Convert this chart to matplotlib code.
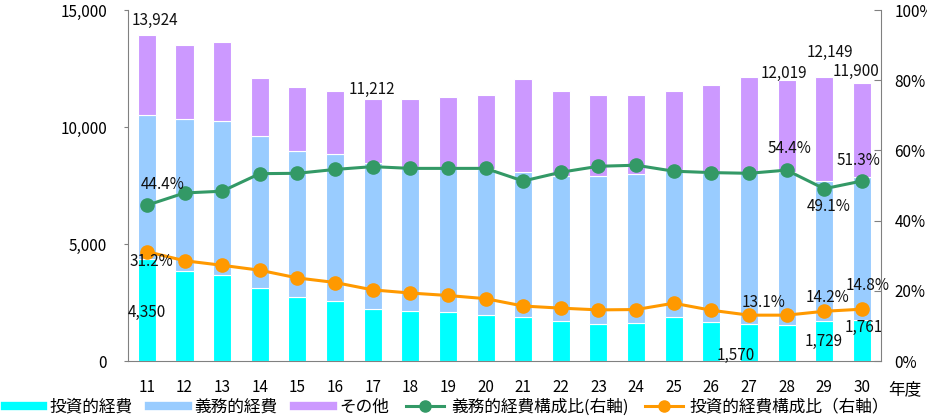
import matplotlib
matplotlib.use("Agg")
import matplotlib.pyplot as plt
from matplotlib.lines import Line2D
from matplotlib.ticker import FuncFormatter
import numpy as np

plt.rcParams['font.family'] = ['Noto Sans CJK JP', 'DejaVu Sans']

# data (億円 / %)
years = ["11", "12", "13", "14", "15", "16", "17", "18", "19", "20",
         "21", "22", "23", "24", "25", "26", "27", "28", "29", "30"]
investment = [4350, 3859, 3675, 3134, 2721, 2551, 2236, 2150, 2094, 1980,
              1895, 1695, 1595, 1638, 1895, 1681, 1570, 1553, 1729, 1761]
mandatory = [6182, 6468, 6591, 6470, 6270, 6318, 6234, 6157, 6212, 6245,
             6188, 6226, 6313, 6359, 6261, 6339, 6505, 6538, 5965, 6105]
other = [3392, 3177, 3352, 2490, 2706, 2682, 2742, 2888, 2989, 3130,
         3955, 3630, 3447, 3358, 3395, 3762, 4062, 3928, 4455, 4034]
mandatory_ratio = [44.4, 47.9, 48.4, 53.4, 53.5, 54.6, 55.4, 54.9, 54.9, 54.9,
                   51.3, 53.8, 55.5, 55.8, 54.1, 53.7, 53.5, 54.4, 49.1, 51.3]
investment_ratio = [31.2, 28.6, 27.3, 25.9, 23.7, 22.4, 20.3, 19.4, 18.7, 17.8,
                    15.7, 15.1, 14.6, 14.7, 16.5, 14.5, 13.1, 13.1, 14.2, 14.8]

cyan = "#00FFFF"
blue = "#99CCFF"
purple = "#CC99FF"
green = "#339966"
orange = "#FF9900"

x = np.arange(len(years))
inv = np.array(investment)
man = np.array(mandatory)
oth = np.array(other)
total = inv + man + oth

fig = plt.figure(figsize=(9.28, 4.18), dpi=100)
ax = fig.add_axes([0.138, 0.136, 0.811, 0.840])
w = 0.48
ax.bar(x, inv, w, color=cyan, edgecolor="white", linewidth=0.8)
ax.bar(x, man, w, bottom=inv, color=blue, edgecolor="white", linewidth=0.8)
ax.bar(x, oth, w, bottom=inv + man, color=purple, edgecolor="white", linewidth=0.8)

fs = 11
ax.set_xlim(-0.5, len(years) - 0.5)
ax.set_ylim(0, 15000)
ax.set_yticks([0, 5000, 10000, 15000])
ax.yaxis.set_major_formatter(FuncFormatter(lambda v, p: f"{int(v):,}"))
ax.set_xticks(x)
ax.set_xticklabels(years)
ax.tick_params(axis="x", length=0, pad=13, labelsize=fs)
ax.tick_params(axis="y", direction="out", length=3, color="#808080", pad=12, labelsize=fs)
for s in ["top", "right"]:
    ax.spines[s].set_visible(False)
for s in ["left", "bottom"]:
    ax.spines[s].set_color("#808080")

ax2 = ax.twinx()
ax2.set_ylim(0, 100)
ax2.set_yticks([0, 20, 40, 60, 80, 100])
ax2.yaxis.set_major_formatter(FuncFormatter(lambda v, p: f"{int(v)}%"))
ax2.tick_params(axis="y", direction="in", length=5, color="#808080", pad=10, labelsize=fs)
for s in ["top", "left", "bottom"]:
    ax2.spines[s].set_visible(False)
ax2.spines["right"].set_color("#808080")

ax2.plot(x, mandatory_ratio, color=green, lw=2.2, marker="o", ms=9.5, zorder=3)
ax2.plot(x, investment_ratio, color=orange, lw=2.2, marker="o", ms=9.5, zorder=3)

def lab(axis, xi, yv, text, dx, dy):
    axis.annotate(text, (xi, yv), xytext=(dx, dy), textcoords="offset pixels",
                  ha="center", va="center", fontsize=fs, color="#111111", zorder=5)

# totals
lab(ax, 0, total[0], f"{total[0]:,}", 8, 15)
lab(ax, 6, total[6], f"{total[6]:,}", -1, 9)
lab(ax, 17, total[17], f"{total[17]:,}", -3, 6)
lab(ax, 18, total[18], f"{total[18]:,}", 6, 24)
lab(ax, 19, total[19], f"{total[19]:,}", -6, 11)
# investment
lab(ax, 0, inv[0], f"{inv[0]:,}", 0, -53)
lab(ax, 16, inv[16], f"{inv[16]:,}", -13, -31)
lab(ax, 18, inv[18], f"{inv[18]:,}", -1, -21)
lab(ax, 19, inv[19], f"{inv[19]:,}", 2, -8)
# ratios
lab(ax2, 0, mandatory_ratio[0], f"{mandatory_ratio[0]}%", 16, 21)
lab(ax2, 17, mandatory_ratio[17], f"{mandatory_ratio[17]}%", 3, 22)
lab(ax2, 18, mandatory_ratio[18], f"{mandatory_ratio[18]}%", 4, -18)
lab(ax2, 19, mandatory_ratio[19], f"{mandatory_ratio[19]}%", -3, 21)
lab(ax2, 0, investment_ratio[0], f"{investment_ratio[0]}%", 5, -10)
lab(ax2, 16, investment_ratio[16], f"{investment_ratio[16]}%", 15, 13)
lab(ax2, 18, investment_ratio[18], f"{investment_ratio[18]}%", 3, 14)
lab(ax2, 19, investment_ratio[19], f"{investment_ratio[19]}%", 6, 24)

fig.text(0.975, 0.068, "年度", ha="center", va="center", fontsize=12)

handles = [
    Line2D([], [], color=cyan, lw=6),
    Line2D([], [], color=blue, lw=6),
    Line2D([], [], color=purple, lw=6),
    Line2D([], [], color=green, lw=2.2, marker="o", ms=8),
    Line2D([], [], color=orange, lw=2.2, marker="o", ms=8),
]
labels = ["投資的経費", "義務的経費", "その他", "義務的経費構成比(右軸)", "投資的経費構成比（右軸）"]
fig.legend(handles, labels, loc="center left", bbox_to_anchor=(0.005, 0.026), ncol=5,
           frameon=False, fontsize=12, handlelength=2.3, handletextpad=0.4,
           columnspacing=1.0, borderaxespad=0, borderpad=0)

fig.savefig("out.png", dpi=100)
